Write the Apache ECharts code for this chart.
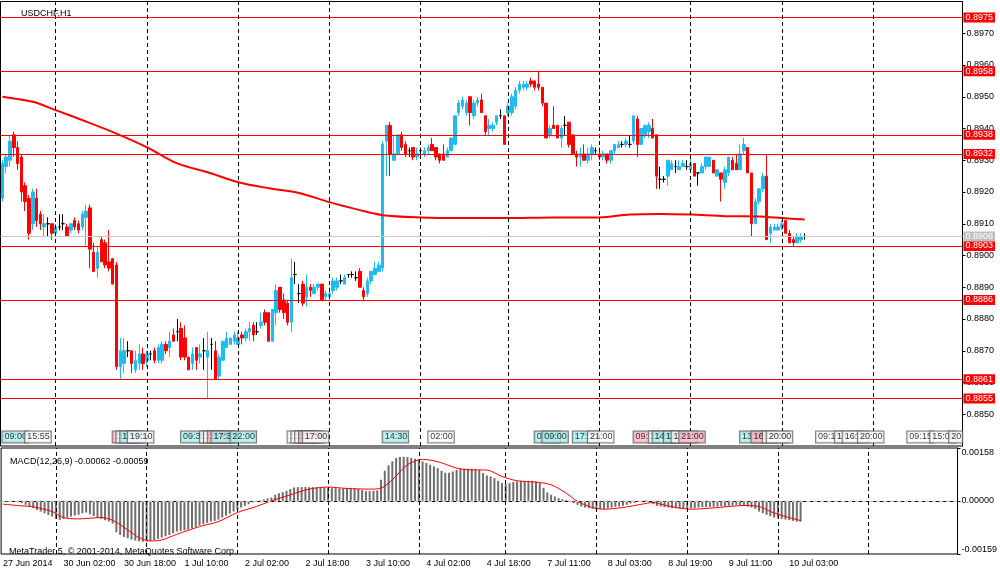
<!DOCTYPE html>
<html><head><meta charset="utf-8">
<script src="https://cdn.jsdelivr.net/npm/echarts@6/dist/echarts.min.js"></script>
<style>html,body{margin:0;padding:0;background:#fff}#c{width:1000px;height:574px}</style>
</head><body><div id="c"></div>
<script>
// ---- DATA ----
// hourly bars USDCHF H1 from 27 Jun 2014 09:00, rows [open, high, low, close]
const ohlc = [
[0.8918,0.8930,0.8917,0.8929],[0.8928,0.8932,0.8926,0.8931],[0.8930,0.8938,0.8928,0.8936],[0.8938,0.8939,0.8931,0.8934],
[0.8934,0.8936,0.8927,0.8929],[0.8931,0.8932,0.8917,0.8920],[0.8922,0.8923,0.8914,0.8917],[0.8918,0.8919,0.8905,0.8907],
[0.8910,0.8921,0.8908,0.8920],[0.8918,0.8921,0.8909,0.8911],[0.8913,0.8914,0.8908,0.8910],[0.8909,0.8913,0.8906,0.8910],
[0.8910,0.8912,0.8906,0.8910],[0.8910,0.8910,0.8905,0.8907],[0.8907,0.8910,0.8906,0.8909],[0.8909,0.8913,0.8908,0.8909],
[0.8910,0.8913,0.8908,0.8910],[0.8909,0.8910,0.8906,0.8906],[0.8908,0.8910,0.8907,0.8910],[0.8911,0.8912,0.8908,0.8909],
[0.8910,0.8911,0.8907,0.8908],[0.8909,0.8914,0.8908,0.8913],[0.8912,0.8916,0.8903,0.8914],[0.8915,0.8916,0.8896,0.8902],
[0.8901,0.8904,0.8895,0.8895],[0.8896,0.8903,0.8893,0.8901],[0.8905,0.8906,0.8898,0.8898],[0.8904,0.8905,0.8896,0.8897],
[0.8898,0.8908,0.8895,0.8896],[0.8899,0.8899,0.8891,0.8891],[0.8897,0.8898,0.8864,0.8865],[0.8865,0.8874,0.8861,0.8870],
[0.8866,0.8874,0.8863,0.8870],[0.8870,0.8873,0.8868,0.8870],[0.8870,0.8870,0.8863,0.8866],[0.8864,0.8870,0.8863,0.8867],
[0.8866,0.8872,0.8864,0.8869],[0.8869,0.8871,0.8864,0.8866],[0.8867,0.8870,0.8865,0.8869],[0.8869,0.8870,0.8867,0.8869],
[0.8870,0.8871,0.8866,0.8867],[0.8867,0.8872,0.8866,0.8871],[0.8867,0.8873,0.8866,0.8872],[0.8872,0.8873,0.8869,0.8870],
[0.8871,0.8876,0.8868,0.8873],[0.8875,0.8877,0.8873,0.8873],[0.8876,0.8880,0.8873,0.8876],[0.8877,0.8879,0.8867,0.8868],
[0.8874,0.8878,0.8867,0.8868],[0.8868,0.8868,0.8864,0.8864],[0.8866,0.8871,0.8864,0.8869],[0.8871,0.8871,0.8864,0.8867],
[0.8868,0.8872,0.8866,0.8869],[0.8870,0.8874,0.8864,0.8870],[0.8868,0.8876,0.8855,0.8870],[0.8872,0.8874,0.8864,0.8872],
[0.8870,0.8873,0.8861,0.8861],[0.8862,0.8869,0.8861,0.8868],[0.8867,0.8873,0.8867,0.8873],[0.8871,0.8876,0.8871,0.8874],
[0.8872,0.8874,0.8872,0.8874],[0.8873,0.8876,0.8872,0.8875],[0.8872,0.8876,0.8872,0.8874],[0.8875,0.8876,0.8872,0.8874],
[0.8874,0.8877,0.8873,0.8876],[0.8876,0.8879,0.8873,0.8877],[0.8878,0.8879,0.8873,0.8875],[0.8876,0.8879,0.8875,0.8876],
[0.8878,0.8882,0.8877,0.8879],[0.8882,0.8883,0.8878,0.8879],[0.8882,0.8882,0.8873,0.8873],[0.8873,0.8883,0.8873,0.8883],
[0.8882,0.8891,0.8878,0.8889],[0.8890,0.8890,0.8882,0.8883],[0.8886,0.8888,0.8880,0.8882],[0.8885,0.8886,0.8878,0.8879],
[0.8879,0.8899,0.8876,0.8893],[0.8894,0.8898,0.8891,0.8894],[0.8888,0.8891,0.8885,0.8888],[0.8891,0.8892,0.8884,0.8885],
[0.8887,0.8894,0.8884,0.8890],[0.8890,0.8891,0.8887,0.8889],[0.8888,0.8891,0.8888,0.8890],[0.8890,0.8891,0.8889,0.8891],
[0.8891,0.8891,0.8886,0.8886],[0.8887,0.8889,0.8886,0.8888],[0.8887,0.8890,0.8886,0.8888],[0.8889,0.8893,0.8888,0.8892],
[0.8890,0.8893,0.8889,0.8892],[0.8892,0.8894,0.8891,0.8892],[0.8891,0.8894,0.8891,0.8893],[0.8894,0.8894,0.8893,0.8894],
[0.8894,0.8895,0.8893,0.8894],[0.8893,0.8895,0.8892,0.8893],[0.8895,0.8896,0.8890,0.8890],[0.8889,0.8890,0.8886,0.8887],
[0.8888,0.8893,0.8887,0.8892],[0.8892,0.8895,0.8891,0.8895],[0.8894,0.8898,0.8894,0.8896],[0.8895,0.8898,0.8895,0.8897],
[0.8896,0.8936,0.8895,0.8935],[0.8936,0.8941,0.8925,0.8941],[0.8941,0.8942,0.8925,0.8932],[0.8930,0.8938,0.8930,0.8932],
[0.8932,0.8938,0.8932,0.8938],[0.8938,0.8939,0.8933,0.8934],[0.8935,0.8936,0.8931,0.8932],[0.8933,0.8934,0.8931,0.8933],
[0.8934,0.8934,0.8930,0.8931],[0.8931,0.8934,0.8930,0.8932],[0.8933,0.8934,0.8931,0.8933],[0.8932,0.8934,0.8931,0.8933],
[0.8933,0.8935,0.8932,0.8934],[0.8935,0.8937,0.8933,0.8933],[0.8934,0.8934,0.8930,0.8931],[0.8932,0.8932,0.8929,0.8930],
[0.8932,0.8935,0.8930,0.8930],[0.8931,0.8934,0.8931,0.8933],[0.8933,0.8937,0.8933,0.8937],[0.8935,0.8944,0.8935,0.8944],
[0.8945,0.8949,0.8944,0.8948],[0.8947,0.8950,0.8946,0.8949],[0.8945,0.8949,0.8944,0.8948],[0.8950,0.8950,0.8941,0.8945],
[0.8944,0.8949,0.8943,0.8948],[0.8948,0.8950,0.8947,0.8949],[0.8949,0.8951,0.8945,0.8945],[0.8944,0.8944,0.8938,0.8939],
[0.8940,0.8943,0.8938,0.8941],[0.8940,0.8942,0.8939,0.8941],[0.8942,0.8944,0.8941,0.8944],[0.8944,0.8946,0.8943,0.8944],
[0.8944,0.8944,0.8935,0.8935],[0.8945,0.8948,0.8944,0.8947],[0.8945,0.8951,0.8944,0.8950],[0.8947,0.8953,0.8946,0.8952],
[0.8952,0.8955,0.8951,0.8954],[0.8953,0.8955,0.8952,0.8954],[0.8953,0.8955,0.8952,0.8954],[0.8955,0.8956,0.8953,0.8954],
[0.8955,0.8955,0.8952,0.8953],[0.8954,0.8958,0.8952,0.8953],[0.8953,0.8953,0.8947,0.8948],[0.8948,0.8948,0.8937,0.8937],
[0.8938,0.8941,0.8937,0.8940],[0.8941,0.8947,0.8940,0.8940],[0.8941,0.8941,0.8937,0.8937],[0.8937,0.8941,0.8934,0.8940],
[0.8941,0.8944,0.8938,0.8941],[0.8942,0.8942,0.8934,0.8935],[0.8938,0.8938,0.8932,0.8932],[0.8932,0.8933,0.8928,0.8931],
[0.8931,0.8934,0.8928,0.8932],[0.8932,0.8935,0.8930,0.8930],[0.8930,0.8934,0.8929,0.8932],[0.8932,0.8935,0.8930,0.8934],
[0.8933,0.8934,0.8932,0.8933],[0.8932,0.8934,0.8930,0.8931],[0.8931,0.8933,0.8930,0.8932],[0.8932,0.8932,0.8929,0.8930],
[0.8930,0.8933,0.8929,0.8933],[0.8933,0.8935,0.8932,0.8935],[0.8934,0.8936,0.8934,0.8935],[0.8935,0.8936,0.8934,0.8935],
[0.8935,0.8937,0.8934,0.8936],[0.8935,0.8938,0.8934,0.8935],[0.8936,0.8944,0.8935,0.8944],[0.8943,0.8944,0.8931,0.8935],
[0.8935,0.8940,0.8935,0.8940],[0.8938,0.8941,0.8937,0.8941],[0.8939,0.8942,0.8937,0.8941],[0.8940,0.8943,0.8937,0.8937],
[0.8938,0.8938,0.8921,0.8925],[0.8924,0.8928,0.8921,0.8924],[0.8924,0.8925,0.8923,0.8924],[0.8925,0.8930,0.8922,0.8930],
[0.8927,0.8930,0.8927,0.8929],[0.8928,0.8930,0.8926,0.8928],[0.8927,0.8930,0.8927,0.8928],[0.8928,0.8930,0.8928,0.8929],
[0.8928,0.8930,0.8927,0.8928],[0.8927,0.8932,0.8927,0.8929],[0.8929,0.8929,0.8925,0.8925],[0.8926,0.8926,0.8922,0.8926],
[0.8926,0.8929,0.8926,0.8928],[0.8928,0.8931,0.8927,0.8931],[0.8928,0.8931,0.8928,0.8931],[0.8930,0.8930,0.8926,0.8926],
[0.8925,0.8927,0.8925,0.8927],[0.8926,0.8926,0.8917,0.8924],[0.8923,0.8928,0.8921,0.8927],[0.8926,0.8931,0.8925,0.8931],
[0.8930,0.8931,0.8927,0.8927],[0.8929,0.8932,0.8927,0.8927],[0.8927,0.8935,0.8927,0.8932],[0.8933,0.8937,0.8932,0.8935],
[0.8934,0.8934,0.8926,0.8926],[0.8926,0.8926,0.8906,0.8910],[0.8910,0.8918,0.8910,0.8917],[0.8917,0.8921,0.8916,0.8921],
[0.8921,0.8926,0.8920,0.8925],[0.8925,0.8932,0.8905,0.8905],[0.8907,0.8910,0.8904,0.8909],[0.8908,0.8910,0.8908,0.8909],
[0.8908,0.8910,0.8908,0.8909],[0.8909,0.8911,0.8908,0.8910],[0.8911,0.8911,0.8907,0.8907],[0.8907,0.8908,0.8904,0.8904],
[0.8905,0.8906,0.8903,0.8904],[0.8904,0.8907,0.8904,0.8906],[0.8905,0.8907,0.8904,0.8906],[0.8906,0.8907,0.8905,0.8906]
];
// moving average read at sample bars [barIndex, value]
const maPoints = [[0,0.89500],[8,0.89484],[14,0.89458],[22,0.89422],[30,0.89384],[38,0.89341],[46,0.89290],[54,0.89262],
[62,0.89231],[70,0.89212],[78,0.89197],[86,0.89168],[94,0.89143],[100,0.89127],[110,0.89120],[120,0.89118],[133,0.89118],
[145,0.89120],[157,0.89120],[165,0.89129],[173,0.89131],[181,0.89129],[190,0.89124],[199,0.89123],[205,0.89118],[211,0.89113]];
// MACD main line (histogram)
const macd = [
-0.00004,-0.00004,-0.00003,-0.00002,-0.00004,-0.00007,-0.00012,-0.00017,-0.00022,-0.00027,
-0.00032,-0.00037,-0.00042,-0.00047,-0.00054,-0.00057,-0.00054,-0.00050,-0.00047,-0.00044,
-0.00042,-0.00037,-0.00035,-0.00040,-0.00045,-0.00050,-0.00054,-0.00058,-0.00062,-0.00068,
-0.00094,-0.00102,-0.00108,-0.00112,-0.00116,-0.00119,-0.00121,-0.00122,-0.00122,-0.00120,
-0.00117,-0.00114,-0.00110,-0.00106,-0.00102,-0.00097,-0.00092,-0.00090,-0.00088,-0.00086,
-0.00082,-0.00078,-0.00074,-0.00070,-0.00066,-0.00062,-0.00060,-0.00056,-0.00050,-0.00044,
-0.00038,-0.00032,-0.00026,-0.00020,-0.00015,-0.00010,-0.00005,-0.00002,0.00001,0.00004,
0.00007,0.00010,0.00018,0.00023,0.00026,0.00030,0.00035,0.00040,0.00041,0.00041,
0.00041,0.00041,0.00041,0.00041,0.00041,0.00040,0.00039,0.00038,0.00038,0.00037,
0.00037,0.00037,0.00037,0.00037,0.00035,0.00032,0.00029,0.00029,0.00030,0.00031,
0.00063,0.00090,0.00106,0.00118,0.00128,0.00131,0.00131,0.00131,0.00128,0.00126,
0.00123,0.00118,0.00113,0.00108,0.00103,0.00098,0.00090,0.00084,0.00084,0.00088,
0.00093,0.00096,0.00096,0.00096,0.00096,0.00095,0.00092,0.00083,0.00076,0.00073,
0.00068,0.00060,0.00053,0.00050,0.00053,0.00056,0.00058,0.00060,0.00060,0.00060,
0.00060,0.00058,0.00053,0.00039,0.00025,0.00018,0.00013,0.00008,0.00005,0.00002,
-0.00001,-0.00007,-0.00012,-0.00017,-0.00020,-0.00022,-0.00024,-0.00026,-0.00025,-0.00024,
-0.00022,-0.00020,-0.00018,-0.00017,-0.00015,-0.00012,-0.00008,-0.00006,-0.00003,-0.00002,
0.00002,0.00000,-0.00010,-0.00015,-0.00017,-0.00019,-0.00020,-0.00022,-0.00022,-0.00023,
-0.00024,-0.00024,-0.00022,-0.00022,-0.00020,-0.00019,-0.00019,-0.00018,-0.00018,-0.00017,
-0.00016,-0.00016,-0.00015,-0.00014,-0.00012,-0.00013,-0.00014,-0.00017,-0.00020,-0.00024,
-0.00032,-0.00037,-0.00042,-0.00046,-0.00050,-0.00052,-0.00054,-0.00056,-0.00058,-0.00060,
-0.00062,-0.00062
];
// MACD signal line read at sample bars [barIndex, value]
const signalPoints = [[0,-0.00010],[5,-0.00015],[8,-0.00018],[13,-0.00032],[16,-0.00050],[20,-0.00054],[26,-0.00050],
[29,-0.00058],[33,-0.00087],[36,-0.00110],[39,-0.00120],[42,-0.00117],[46,-0.00100],[52,-0.00077],[57,-0.00062],
[62,-0.00035],[67,-0.00017],[71,0.00000],[76,0.00018],[81,0.00035],[86,0.00041],[91,0.00037],[97,0.00035],[100,0.00038],
[103,0.00063],[107,0.00108],[111,0.00124],[115,0.00117],[120,0.00098],[123,0.00093],[128,0.00092],[132,0.00073],
[136,0.00060],[141,0.00056],[145,0.00048],[149,0.00023],[152,-0.00002],[156,-0.00020],[159,-0.00025],[164,-0.00020],
[169,-0.00010],[172,-0.00005],[174,-0.00010],[178,-0.00020],[182,-0.00025],[187,-0.00022],[192,-0.00017],[196,-0.00014],
[200,-0.00017],[203,-0.00032],[207,-0.00047],[211,-0.00059]];
// horizontal level lines
const levels = [0.8975, 0.8958, 0.8938, 0.8932, 0.8903, 0.8886, 0.8861, 0.8855];
const bidPrice = 0.8906;
// day separator bar indices
const daySeps = [14, 38, 62, 86, 110, 133, 157, 181, 205, 229];
// time axis labels, one every 16 bars from bar 0
const tickLabels = ['27 Jun 2014','30 Jun 02:00','30 Jun 18:00','1 Jul 10:00','2 Jul 02:00','2 Jul 18:00','3 Jul 10:00',
'4 Jul 02:00','4 Jul 18:00','7 Jul 11:00','8 Jul 03:00','8 Jul 19:00','9 Jul 11:00','10 Jul 03:00'];
const totalSlots = 253;
// calendar events [barIndex, text, kind]
const events = [[0,'09:00','c'],[6,'15:55','w'],[29,'15:00','p'],[30,'16:00','w'],[31,'17:00','c'],[33,'19:10','w'],
[47,'09:30','c'],[52,'14:00','w'],[53,'15:00','w'],[54,'16:00','p'],[55,'17:30','c'],[60,'22:00','c'],
[75,'13:00','w'],[76,'14:00','w'],[77,'15:00','w'],[78,'16:00','p'],[79,'17:00','w'],[100,'14:30','c'],[112,'02:00','w'],
[140,'07:00','c'],[142,'09:00','c'],[150,'17:00','c'],[154,'21:00','w'],[166,'09:00','p'],[170,'13:00','w'],
[171,'14:00','c'],[174,'17:00','c'],[176,'19:00','w'],[178,'21:00','p'],[194,'13:00','c'],[197,'16:00','p'],
[200,'19:00','w'],[201,'20:00','w'],[214,'09:15','w'],[219,'14:00','w'],[221,'16:00','w'],[225,'20:00','w'],
[238,'09:15','w'],[244,'15:00','w'],[249,'20','w']];

// ---- CHART ----
const FONT = 'Liberation Sans';
const BULL = '#1ebcf2', BEAR = '#ff0000';
const evColor = {c:'#aeeeee', p:'#ffb8c6', w:'#ffffff'};
const cats = Array.from({length: totalSlots}, (_, i) => String(i));
const candleData = ohlc.map(r => [r[0], r[3], r[2], r[1]]);
const tickFn = i => i % 16 === 0 && i / 16 < tickLabels.length;
const sepLine = {silent:true, symbol:['none','none'], animation:false, label:{show:false},
  lineStyle:{color:'#000', type:[4,3], width:1}, data: daySeps.map(d => ({xAxis: d}))};
const lvlLabel = (v, bg) => ({show:true, position:'end', distance:1, formatter:v.toFixed(4), color:'#fff',
  backgroundColor:bg, padding:[1,2,0,2], fontSize:9, fontFamily:FONT});
const levelLine = {silent:true, symbol:['none','none'], animation:false, precision:5,
  data: levels.map(v => ({yAxis:v, lineStyle:{color:'#ff0000', width:1, type:'solid'}, label:lvlLabel(v, '#ff0000')}))
    .concat([{yAxis:bidPrice, lineStyle:{color:'#c8c8c8', width:1, type:'solid'}, label:lvlLabel(bidPrice, '#c0c0c0')}])};

const chart = echarts.init(document.getElementById('c'), null, {renderer:'canvas'});
chart.setOption({
  animation:false,
  backgroundColor:'#fff',
  textStyle:{fontFamily:FONT},
  title:[
    {text:'USDCHF,H1', left:16, top:4, textStyle:{fontSize:9, fontWeight:'normal', color:'#000', fontFamily:FONT}},
    {text:'MACD(12,26,9) -0.00062 -0.00059', left:5, top:452, textStyle:{fontSize:9, fontWeight:'normal', color:'#000', fontFamily:FONT}},
    {text:'MetaTrader 5, © 2001-2014, MetaQuotes Software Corp.', left:4, top:542, textStyle:{fontSize:9, fontWeight:'normal', color:'#000', fontFamily:FONT}}
  ],
  grid:[
    {left:0.5, right:37.5, top:1.5, height:444.5, show:true, borderColor:'#000', borderWidth:1, backgroundColor:'#fff'},
    {left:0.5, right:37.5, top:448, height:106, show:true, borderColor:'#000', borderWidth:1, backgroundColor:'#fff'},
    {left:0.5, right:37.5, top:430, height:14, show:false}
  ],
  xAxis:[
    {type:'category', gridIndex:0, data:cats, show:false},
    {type:'category', gridIndex:1, data:cats, axisLine:{lineStyle:{color:'#000'}},
     axisTick:{interval:tickFn, alignWithLabel:true, length:4, lineStyle:{color:'#000'}},
     axisLabel:{interval:tickFn, align:'left', margin:5, fontSize:9, color:'#000', fontFamily:FONT,
       formatter:(v, i) => tickLabels[i / 16] || ''}},
    {type:'category', gridIndex:2, data:cats, show:false}
  ],
  yAxis:[
    {type:'value', gridIndex:0, position:'right', min:0.884, max:0.898, interval:0.001, splitLine:{show:false},
     axisLine:{show:true, lineStyle:{color:'#000'}}, axisTick:{show:true, length:3, lineStyle:{color:'#000'}},
     axisLabel:{showMinLabel:false, showMaxLabel:false, fontSize:9, color:'#000', margin:4, fontFamily:FONT,
       formatter:v => v.toFixed(4)}},
    {type:'value', gridIndex:1, position:'right', min:-0.00159, max:0.00158, splitLine:{show:false},
     axisLine:{show:true, lineStyle:{color:'#000'}},
     axisTick:{show:true, length:3, customValues:[-0.00159, 0, 0.00158], lineStyle:{color:'#000'}},
     axisLabel:{customValues:[-0.00159, 0, 0.00158], fontSize:9, color:'#000', margin:4, fontFamily:FONT,
       verticalAlignMaxLabel:'top', verticalAlignMinLabel:'bottom',
       formatter:v => v.toFixed(5)}},
    {type:'value', gridIndex:2, min:0, max:1, show:false}
  ],
  series:[
    {type:'line', xAxisIndex:0, yAxisIndex:0, data:[], z:1, markLine:sepLine},
    {type:'candlestick', xAxisIndex:0, yAxisIndex:0, data:candleData, barWidth:3, z:3,
     itemStyle:{color:BULL, color0:BEAR, borderColor:BULL, borderColor0:BEAR, borderColorDoji:'#000', borderWidth:1}},
    {type:'line', xAxisIndex:0, yAxisIndex:0, data:maPoints, showSymbol:false, smooth:0.3, z:4,
     lineStyle:{color:'#ff0000', width:2}},
    {type:'line', xAxisIndex:0, yAxisIndex:0, data:[], z:5, markLine:levelLine},
    {type:'scatter', xAxisIndex:2, yAxisIndex:2, symbolSize:0, z:6,
     data: events.map(e => ({name:e[1], value:[e[0], 0.5],
       label:{backgroundColor:evColor[e[2]]}})),
     label:{show:true, position:'right', distance:0, formatter:'{b}', fontSize:9, color:'#000', fontFamily:FONT,
       borderColor:'#555', borderWidth:1, padding:[1,1,0,2], lineHeight:10}},
    {type:'bar', xAxisIndex:1, yAxisIndex:1, data:macd, barWidth:2, z:2,
     itemStyle:{color:'#6e6e6e'},
     markLine:{silent:true, symbol:['none','none'], animation:false, label:{show:false}, precision:5,
       lineStyle:{color:'#c0c0c0', type:[4,3], width:1}, data:[{yAxis:0}]}},
    {type:'line', xAxisIndex:1, yAxisIndex:1, data:[], z:1, markLine:sepLine},
    {type:'line', xAxisIndex:1, yAxisIndex:1, data:signalPoints, showSymbol:false, smooth:0.3, z:4,
     lineStyle:{color:'#ff0000', width:1}}
  ]
});
</script></body></html>
